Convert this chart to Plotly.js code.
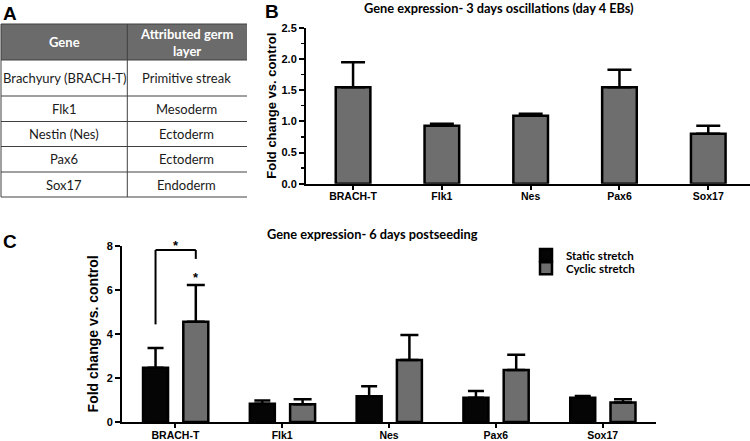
<!DOCTYPE html>
<html><head><meta charset="utf-8">
<script src="https://cdn.plot.ly/plotly-3.0.1.min.js"></script>
<style>html,body{margin:0;padding:0;background:#fff}#chart{width:750px;height:441px}</style>
</head><body><div id="chart"></div>
<script>
// ---- Panel A table ----
const tableHeader = ['Gene', 'Attributed germ<br>layer'];
const tableGenes = ['Brachyury (BRACH-T)', 'Flk1', 'Nestin (Nes)', 'Pax6', 'Sox17'];
const tableLayers = ['Primitive streak', 'Mesoderm', 'Ectoderm', 'Ectoderm', 'Endoderm'];

// ---- Panel B: 3 days oscillations (day 4 EBs) ----
const genes = ['BRACH-T', 'Flk1', 'Nes', 'Pax6', 'Sox17'];
const oscMean = [1.545, 0.93, 1.09, 1.545, 0.80];
const oscErr = [0.40, 0.03, 0.03, 0.28, 0.13];

// ---- Panel C: 6 days postseeding ----
const staticMean = [2.46, 0.83, 1.17, 1.10, 1.10];
const staticErr = [0.90, 0.15, 0.45, 0.31, 0.08];
const cyclicMean = [4.55, 0.80, 2.81, 2.36, 0.88];
const cyclicErr = [1.67, 0.23, 1.14, 0.69, 0.15];
const seriesNames = ['Static stretch', 'Cyclic stretch'];

const W = 750, H = 441;
const px = v => v / W;
const py = v => 1 - v / H;
const zeros = genes.map(() => 0);
const boldArial = (s) => ({family: 'Liberation Sans, Arial, sans-serif', size: s, color: '#000', weight: 'bold'});
const calib = (s, b, c) => ({family: 'Lato, Carlito, sans-serif', size: s, color: c || '#000', weight: b ? 'bold' : 'normal'});

const barLine = {color: '#000', width: 2.5};
const errStyle = (arr, w) => ({type: 'data', array: arr, arrayminus: zeros, symmetric: false,
  visible: true, color: '#000', thickness: 2.5, width: w});

// bar geometry (category units)
const bW = 0.39, cW = 0.234, cOffS = -0.303, cOffC = 0.074;

const traces = [
  {
    type: 'bar', x: genes, y: oscMean, xaxis: 'x', yaxis: 'y',
    width: bW, offset: -bW / 2, showlegend: false, hoverinfo: 'skip',
    marker: {color: '#6e6e6e', line: barLine},
    error_y: errStyle(oscErr, 12)
  },
  {
    type: 'bar', name: seriesNames[0], x: genes, y: staticMean, xaxis: 'x2', yaxis: 'y2',
    width: cW, offset: cOffS, legend: 'legend', hoverinfo: 'skip',
    marker: {color: '#050505', line: barLine},
    error_y: errStyle(staticErr, 8)
  },
  {
    type: 'bar', name: seriesNames[1], x: genes, y: cyclicMean, xaxis: 'x2', yaxis: 'y2',
    width: cW, offset: cOffC, legend: 'legend2', hoverinfo: 'skip',
    marker: {color: '#6e6e6e', line: barLine},
    error_y: errStyle(cyclicErr, 9)
  }
];

const xCommon = {type: 'category', showline: true, linecolor: '#000', linewidth: 2,
  ticks: 'outside', ticklen: 4, tickwidth: 2, tickcolor: '#000', ticklabelstandoff: -2,
  showgrid: false, zeroline: false, fixedrange: true, tickfont: boldArial(10.5)};
const yCommon = {showline: true, linecolor: '#000', linewidth: 2,
  ticks: 'outside', ticklen: 5, tickwidth: 2, tickcolor: '#000',
  showgrid: false, zeroline: false, fixedrange: true, tickfont: boldArial(11)};

// ---- table geometry (layout, in px) ----
const tblLeft = 1, tblMid = 127.3, tblRight = 247, tblTop = 24, headH = 36;
const rowH = [36, 25.5, 25, 25.5, 25];
const rowEdges = [tblTop, tblTop + headH];
rowH.forEach(h => rowEdges.push(rowEdges[rowEdges.length - 1] + h));
const gridLine = {color: '#404040', width: 1};

const shapes = [];
const annotations = [];
shapes.push({type: 'rect', xref: 'paper', yref: 'paper', x0: px(tblLeft), x1: px(tblRight),
  y0: py(tblTop), y1: py(tblTop + headH), fillcolor: '#6b6b6b', line: {width: 0}, layer: 'below'});
rowEdges.forEach(y => shapes.push({type: 'line', xref: 'paper', yref: 'paper',
  x0: px(tblLeft), x1: px(tblRight), y0: py(y), y1: py(y), line: gridLine}));
[tblLeft, tblMid].forEach(x => shapes.push({type: 'line', xref: 'paper', yref: 'paper',
  x0: px(x), x1: px(x), y0: py(tblTop), y1: py(rowEdges[rowEdges.length - 1]), line: gridLine}));
const colCenters = [(tblLeft + tblMid) / 2, (tblMid + tblRight) / 2 - 1];
tableHeader.forEach((t, c) => annotations.push({text: '<b>' + t + '</b>', xref: 'paper', yref: 'paper',
  x: px(colCenters[c]), y: py(tblTop + headH / 2), showarrow: false, xanchor: 'center', yanchor: 'middle',
  font: calib(13, true, '#fff')}));
[tableGenes, tableLayers].forEach((col, c) => col.forEach((t, r) => annotations.push({
  text: t, xref: 'paper', yref: 'paper', x: px(colCenters[c]), y: py((rowEdges[r + 1] + rowEdges[r + 2]) / 2),
  showarrow: false, xanchor: 'center', yanchor: 'middle', font: calib(13, false, '#1a1a1a')})));

// significance bracket (BRACH-T, static vs cyclic)
const sCenter = cOffS + cW / 2, cCenter = cOffC + cW / 2;
const bracketTop = 7.8;
const leftLegBottom = staticMean[0] + staticErr[0] + 1.07;
const rightLegBottom = bracketTop - 0.4;
const lineS = {color: '#000', width: 2};
shapes.push(
  {type: 'line', xref: 'x2', yref: 'y2', x0: sCenter, x1: sCenter, y0: leftLegBottom, y1: bracketTop, line: lineS},
  {type: 'line', xref: 'x2', yref: 'y2', x0: sCenter, x1: cCenter, y0: bracketTop, y1: bracketTop, line: lineS},
  {type: 'line', xref: 'x2', yref: 'y2', x0: cCenter, x1: cCenter, y0: bracketTop, y1: rightLegBottom, line: lineS}
);
annotations.push(
  {text: '*', xref: 'x2', yref: 'paper', x: (sCenter + cCenter) / 2, y: py(245), showarrow: false,
    font: boldArial(13), xanchor: 'center', yanchor: 'middle'},
  {text: '*', xref: 'x2', yref: 'y2', x: cCenter, y: cyclicMean[0] + cyclicErr[0] + 0.34, showarrow: false,
    font: boldArial(13), xanchor: 'center', yanchor: 'middle'},
  {text: 'Gene expression- 3 days oscillations (day 4 EBs)', xref: 'paper', yref: 'paper',
    x: px(499), y: py(8.5), showarrow: false, xanchor: 'center', yanchor: 'middle', font: calib(12.8, true)},
  {text: 'Gene expression- 6 days postseeding', xref: 'paper', yref: 'paper',
    x: px(372), y: py(234), showarrow: false, xanchor: 'center', yanchor: 'middle', font: calib(12.8, true)},
  {text: 'A', xref: 'paper', yref: 'paper', x: px(1), y: py(13.5), showarrow: false,
    xanchor: 'left', yanchor: 'middle', font: boldArial(19)},
  {text: 'B', xref: 'paper', yref: 'paper', x: px(263), y: py(11.7), showarrow: false,
    xanchor: 'left', yanchor: 'middle', font: boldArial(19)},
  {text: 'C', xref: 'paper', yref: 'paper', x: px(1), y: py(241.5), showarrow: false,
    xanchor: 'left', yanchor: 'middle', font: boldArial(19)}
);

const layout = {
  width: W, height: H,
  margin: {l: 0, r: 0, t: 0, b: 0},
  paper_bgcolor: '#fff', plot_bgcolor: 'rgba(0,0,0,0)',
  barmode: 'overlay',
  xaxis: Object.assign({}, xCommon, {domain: [px(306), 1], anchor: 'y', range: [-0.53, 4.47]}),
  yaxis: Object.assign({}, yCommon, {domain: [py(183.7), py(27.7)], anchor: 'x', range: [0, 2.5],
    tick0: 0, dtick: 0.5, tickformat: '.1f',
    minor: {dtick: 0.25, ticks: 'outside', ticklen: 3, tickwidth: 1.5, tickcolor: '#000', showgrid: false},
    title: {text: 'Fold change vs. control', font: boldArial(13), standoff: 2}}),
  xaxis2: Object.assign({}, xCommon, {domain: [px(122), px(656)], anchor: 'y2', range: [-0.5, 4.5]}),
  yaxis2: Object.assign({}, yCommon, {domain: [py(422), py(245.7)], anchor: 'x2', range: [0, 8],
    tick0: 0, dtick: 2, tickformat: 'd',
    title: {text: 'Fold change vs. control', font: boldArial(14), standoff: 5}}),
  legend: {x: px(526), xanchor: 'left', y: py(255), yanchor: 'middle', bgcolor: 'rgba(0,0,0,0)',
    borderwidth: 0, font: calib(11.5, true), itemclick: false},
  legend2: {x: px(526), xanchor: 'left', y: py(268.3), yanchor: 'middle', bgcolor: 'rgba(0,0,0,0)',
    borderwidth: 0, font: calib(11.5, true), itemclick: false},
  shapes: shapes,
  annotations: annotations
};

Plotly.newPlot('chart', traces, layout, {staticPlot: true, displayModeBar: false});
</script>
</body></html>
